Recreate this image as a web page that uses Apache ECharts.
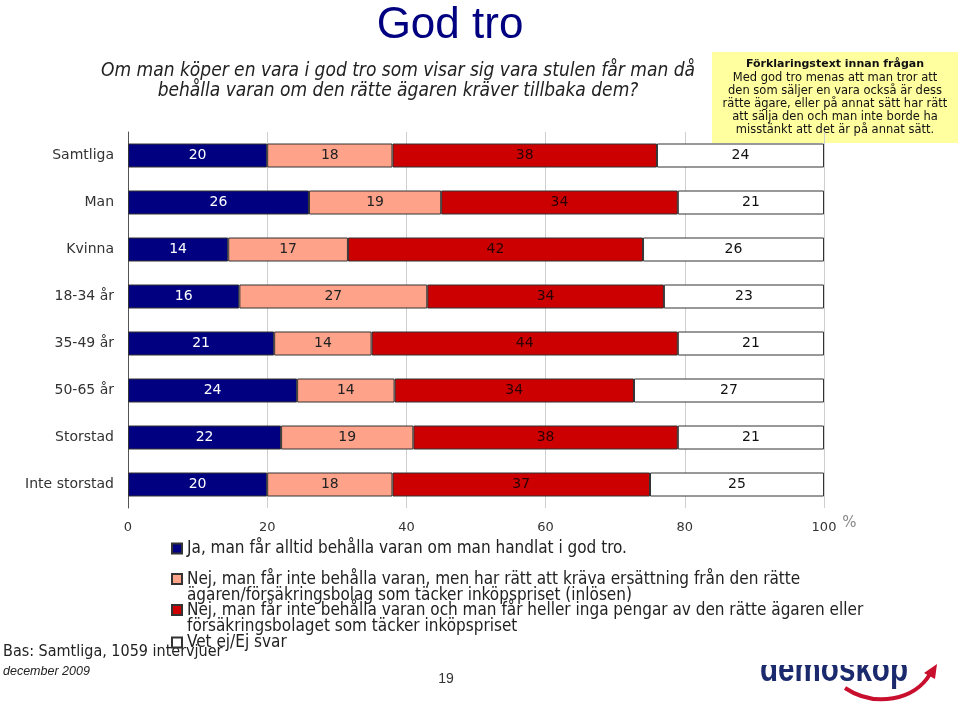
<!DOCTYPE html>
<html><head><meta charset="utf-8">
<script src="https://cdn.jsdelivr.net/npm/echarts@6/dist/echarts.min.js"></script>
<style>html,body{margin:0;padding:0;background:#fff}#c{width:960px;height:706px}</style>
</head><body><div id="c"></div>
<script>
var categories = ['Samtliga','Man','Kvinna','18-34 år','35-49 år','50-65 år','Storstad','Inte storstad'];
var seriesNames = [
  'Ja, man får alltid behålla varan om man handlat i god tro.',
  'Nej, man får inte behålla varan, men har rätt att kräva ersättning från den rätte ägaren/försäkringsbolag som täcker inköpspriset (inlösen)',
  'Nej, man får inte behålla varan och man får heller inga pengar av den rätte ägaren eller försäkringsbolaget som täcker inköpspriset',
  'Vet ej/Ej svar'
];
var legendLines = [
  ['Ja, man får alltid behålla varan om man handlat i god tro.'],
  ['Nej, man får inte behålla varan, men har rätt att kräva ersättning från den rätte','ägaren/försäkringsbolag som täcker inköpspriset (inlösen)'],
  ['Nej, man får inte behålla varan och man får heller inga pengar av den rätte ägaren eller','försäkringsbolaget som täcker inköpspriset'],
  ['Vet ej/Ej svar']
];
// values (labels show them rounded)
var jaValues   = [20, 26, 14.4, 16, 21, 24.3, 22, 20];
var nejInlosen = [18, 19, 17.2, 27, 14, 14.0, 19, 18];
var nejInga    = [38, 34, 42.4, 34, 44, 34.4, 38, 37];
var vetEj      = [24, 21, 26.0, 23, 21, 27.3, 21, 25];
var xTicks = [0,20,40,60,80,100];

var colors = ['#000080','#FFA28A','#CC0000','#FFFFFF'];
var labelColors = ['#FFFFFF','#222222','#2a0000','#111111'];
var values = [jaValues, nejInlosen, nejInga, vetEj];

var chart = echarts.init(document.getElementById('c'), null, {renderer:'canvas'});
var baseFont = 'DejaVu Sans, Verdana, sans-serif';
var condFont = 'DejaVu Sans Condensed, Liberation Sans Narrow, Arial, sans-serif';

var series = values.map(function(v,i){
  return {
    name: seriesNames[i], type:'bar', stack:'total', barWidth:24, data:v,
    itemStyle:{color:colors[i], borderColor:'#333', borderWidth:1},
    label:{show:true, position:'inside', color:labelColors[i], fontSize:14, fontFamily:baseFont,
      formatter:function(p){ return Math.round(p.value); }},
    emphasis:{disabled:true}
  };
});

// square placed at the top of a tall icon box so it lines up with the first text line
var tallIcon = 'path://M0,0L0.01,0M0,3L10,3L10,13L0,13ZM0,33L0.01,33';
var legendTops = [540, 570, 601, 634];
var legends = seriesNames.map(function(n,i){
  var multi = legendLines[i].length > 1;
  return {
    data:[n], left:171, top:legendTops[i], padding:0, orient:'vertical',
    icon: multi ? tallIcon : 'rect', itemWidth:10, itemHeight: multi ? 33 : 10, selectedMode:false,
    formatter:function(){ return legendLines[i].join('\n'); },
    textStyle:{fontSize:17, color:'#222', fontFamily:condFont, lineHeight:16.5}
  };
});

var option = {
  animation:false,
  color:colors,
  title:[{text:'God tro', left:445, textAlign:'center', top:-1,
    textStyle:{fontSize:44, fontWeight:'normal', color:'#000080', fontFamily:'Liberation Sans, Arial, sans-serif'}}],
  legend:legends,
  grid:{left:128, right:136, top:132, bottom:198, containLabel:false},
  xAxis:{type:'value', min:xTicks[0], max:xTicks[xTicks.length-1], interval:xTicks[1]-xTicks[0],
    axisLine:{show:false}, axisTick:{show:false},
    splitLine:{lineStyle:{color:'#cfcfcf', width:1}},
    axisLabel:{fontSize:13, color:'#333', fontFamily:baseFont, margin:13},
    name:'%', nameLocation:'end', nameGap:0,
    nameTextStyle:{fontSize:15, color:'#888', fontFamily:baseFont, verticalAlign:'top', padding:[8,0,0,0]}
  },
  yAxis:{type:'category', inverse:true, data:categories,
    axisLine:{show:true, lineStyle:{color:'#555', width:1}}, axisTick:{show:false},
    axisLabel:{fontSize:14, color:'#333', fontFamily:baseFont, margin:14}
  },
  series:series,
  graphic:[
    {type:'text', x:398, y:81.5, style:{text:'Om man köper en vara i god tro som visar sig vara stulen får man då\nbehålla varan om den rätte ägaren kräver tillbaka dem?',
      align:'center', verticalAlign:'middle', fontSize:19, fontStyle:'italic', lineHeight:20, fill:'#222', fontFamily:condFont}},
    {type:'rect', shape:{x:712, y:52, width:246, height:91}, style:{fill:'#FFFFA0'}},
    {type:'text', x:835, y:64, style:{text:'Förklaringstext innan frågan', align:'center', verticalAlign:'middle',
      fontSize:11, fontWeight:'bold', fill:'#111', fontFamily:baseFont}},
    {type:'text', x:835, y:72, style:{text:'Med god tro menas att man tror att\nden som säljer en vara också är dess\nrätte ägare, eller på annat sätt har rätt\natt sälja den och man inte borde ha\nmisstänkt att det är på annat sätt.',
      align:'center', verticalAlign:'top', fontSize:11.5, lineHeight:13, fill:'#111', fontFamily:baseFont}},
    {type:'text', x:3, y:652, style:{text:'Bas: Samtliga, 1059 intervjuer', verticalAlign:'middle', fontSize:16, fill:'#222', fontFamily:condFont}},
    {type:'text', x:3, y:672, style:{text:'december 2009', verticalAlign:'middle', fontSize:12.5, fontStyle:'italic', fill:'#222', fontFamily:'Liberation Sans, Arial, sans-serif'}},
    {type:'text', x:446, y:679, style:{text:'19', align:'center', verticalAlign:'middle', fontSize:14, fill:'#333', fontFamily:'Liberation Sans, Arial, sans-serif'}},
    {type:'text', x:760, y:689, z:10, scaleX:0.8, originX:0, originY:0, style:{text:'demoskop', verticalAlign:'bottom', fontSize:37, fontWeight:'bold', fill:'#1a2a6c', fontFamily:'Liberation Sans, Arial, sans-serif'}},
    {type:'rect', z:11, shape:{x:740, y:640, width:220, height:25}, style:{fill:'#fff'}},
    {type:'bezierCurve', z:12, shape:{x1:845, y1:688, cpx1:875, cpy1:708, cpx2:915, cpy2:700, x2:930, y2:674},
      style:{stroke:'#c8102e', lineWidth:4, fill:null}},
    {type:'polygon', z:12, shape:{points:[[937,664],[924,673],[935,679]]}, style:{fill:'#c8102e'}}
  ]
};
chart.setOption(option);
</script></body></html>
